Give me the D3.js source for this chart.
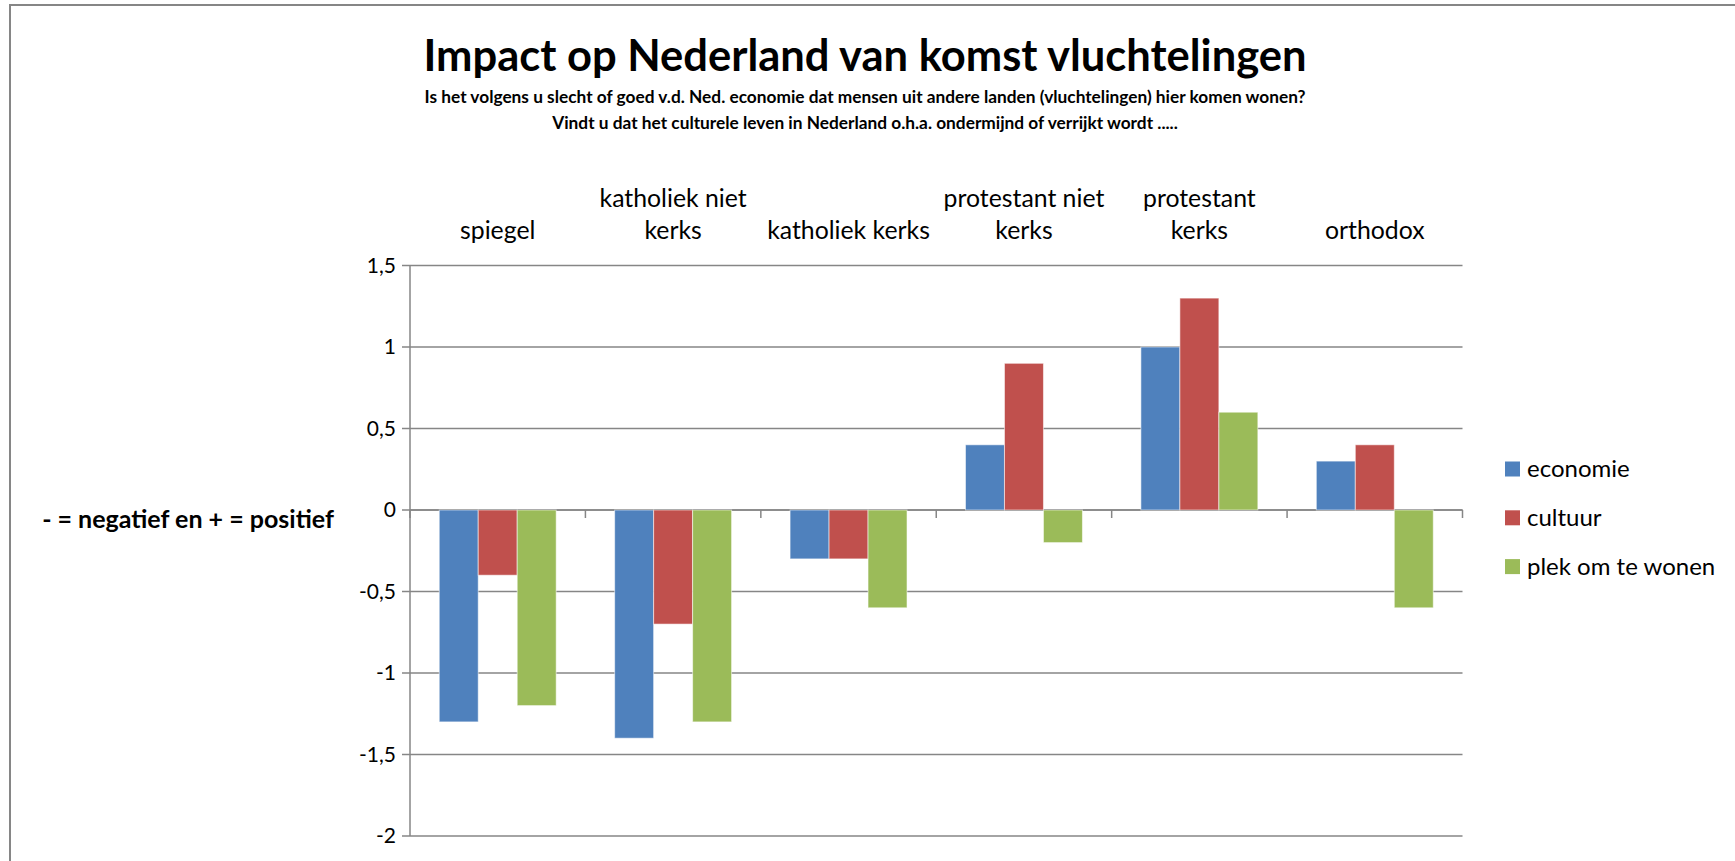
<!DOCTYPE html>
<html>
<head>
<meta charset="utf-8">
<script src="https://cdn.jsdelivr.net/npm/d3@7"></script>
<style>
  body { margin: 0; background: #fff; }
  svg text { font-family: Lato, "Open Sans", sans-serif; fill: #000; }
  .grid line { stroke: #868686; stroke-width: 1.5; }
</style>
</head>
<body>
<svg id="chart"></svg>
<script>
// chart values
var categories = [["spiegel"], ["katholiek niet", "kerks"], ["katholiek kerks"], ["protestant niet", "kerks"], ["protestant", "kerks"], ["orthodox"]];
var seriesNames = ["economie", "cultuur", "plek om te wonen"];
var economie = [-1.3, -1.4, -0.3, 0.4, 1.0, 0.3];
var cultuur = [-0.4, -0.7, -0.3, 0.9, 1.3, 0.4];
var plek = [-1.2, -1.3, -0.6, -0.2, 0.6, -0.6];
var yTicks = [-2, -1.5, -1, -0.5, 0, 0.5, 1, 1.5];
var colors = ["#4F81BD", "#C0504D", "#9BBB59"];

var width = 1735;
var height = 861;
var plot = {"left": 410, "right": 1462.5, "top": 265.5, "bottom": 836};

var svg = d3.select("svg#chart")
  .attr("width", width)
  .attr("height", height);

// outer chart border (right and bottom fall outside the picture)
svg.append("rect")
  .attr("x", 10).attr("y", 5)
  .attr("width", width + 20).attr("height", height + 20)
  .attr("fill", "none")
  .attr("stroke", "#868686")
  .attr("stroke-width", 2);

var xScale = d3.scaleBand()
  .domain(d3.range(categories.length))
  .range([plot.left, plot.right])
  .paddingInner(0)
  .paddingOuter(0);

// gap width 150% like excel: 3 bars + 1.5 bar of gap
var xInner = d3.scaleBand()
  .domain(d3.range(seriesNames.length))
  .range([0, xScale.bandwidth()])
  .paddingInner(0)
  .paddingOuter(0.75);

var yScale = d3.scaleLinear()
  .domain([-2, 1.5])
  .range([plot.bottom, plot.top]);

var nl = d3.formatLocale({"decimal": ",", "thousands": ".", "grouping": [3], "currency": ["€", ""], "minus": "-"});
var fmt = nl.format("");

// horizontal gridlines
var grid = svg.append("g").attr("class", "grid");
grid.selectAll("line.gridline")
  .data(yTicks)
  .enter()
  .append("line")
  .attr("class", "gridline")
  .attr("x1", plot.left - 8)
  .attr("x2", plot.right)
  .attr("y1", function(d) { return yScale(d); })
  .attr("y2", function(d) { return yScale(d); });

// y axis line
grid.append("line")
  .attr("x1", plot.left).attr("x2", plot.left)
  .attr("y1", plot.top).attr("y2", plot.bottom);

// y tick labels
svg.append("g")
  .selectAll("text")
  .data(yTicks)
  .enter()
  .append("text")
  .attr("x", plot.left - 14)
  .attr("y", function(d) { return yScale(d); })
  .attr("dy", "0.35em")
  .style("text-anchor", "end")
  .style("font-size", "21px")
  .text(function(d) { return fmt(d); });

// bars
var allSeries = [economie, cultuur, plek];
var groups = svg.append("g").selectAll("g.series")
  .data(allSeries)
  .enter()
  .append("g")
  .attr("class", "series")
  .attr("fill", function(d, i) { return colors[i]; });

groups.each(function(vals, si) {
  d3.select(this).selectAll("rect")
    .data(vals)
    .enter()
    .append("rect")
    .attr("x", function(d, ci) { return xScale(ci) + xInner(si); })
    .attr("width", xInner.bandwidth())
    .attr("y", function(d) { return yScale(Math.max(0, d)); })
    .attr("height", function(d) { return Math.abs(yScale(d) - yScale(0)); })
    .attr("stroke", "rgba(255,255,255,0.55)")
    .attr("stroke-width", 1);
});

// category axis on zero line with ticks going down
var zeroY = yScale(0);
grid.append("line")
  .attr("x1", plot.left).attr("x2", plot.right)
  .attr("y1", zeroY).attr("y2", zeroY);
grid.selectAll("line.ctick")
  .data(d3.range(categories.length + 1))
  .enter()
  .append("line")
  .attr("class", "ctick")
  .attr("x1", function(d) { return plot.left + d * xScale.step(); })
  .attr("x2", function(d) { return plot.left + d * xScale.step(); })
  .attr("y1", zeroY)
  .attr("y2", zeroY + 8);

// category labels above the plot
var catLabels = svg.append("g")
  .selectAll("text")
  .data(categories)
  .enter()
  .append("text")
  .attr("x", function(d, i) { return xScale(i) + xScale.bandwidth() / 2; })
  .style("text-anchor", "middle")
  .style("font-size", "24.8px");

catLabels.each(function(lines) {
  var t = d3.select(this);
  var base = 239 - (lines.length - 1) * 32.3;
  lines.forEach(function(line, k) {
    t.append("tspan")
      .attr("x", t.attr("x"))
      .attr("y", base + k * 32.3)
      .text(line);
  });
});

// legend
var legend = svg.append("g")
  .attr("class", "legend")
  .attr("transform", "translate(1505, 469)");

var legend_el = legend.selectAll("g.legend_el")
  .data(seriesNames)
  .enter()
  .append("g")
  .attr("class", "legend_el")
  .attr("transform", function(d, i) { return "translate(0," + (i * 48.8) + ")"; });

legend_el.append("rect")
  .attr("x", 0).attr("y", -7.5)
  .attr("width", 15).attr("height", 15)
  .attr("fill", function(d, i) { return colors[i]; });

legend_el.append("text")
  .attr("x", 22)
  .attr("dy", "0.35em")
  .style("font-size", "24px")
  .text(function(d) { return d; });

// y axis title
svg.append("text")
  .attr("x", 188)
  .attr("y", 519)
  .attr("dy", "0.35em")
  .style("text-anchor", "middle")
  .style("font-size", "25px")
  .style("font-weight", "bold")
  .text("- = negatief en + = positief");

// titles
svg.append("text")
  .attr("x", 865)
  .attr("y", 71)
  .style("text-anchor", "middle")
  .style("font-size", "43.5px")
  .style("font-weight", "bold")
  .text("Impact op Nederland van komst vluchtelingen");

svg.append("text")
  .attr("x", 865)
  .attr("y", 103)
  .style("text-anchor", "middle")
  .style("font-size", "17.3px")
  .style("font-weight", "bold")
  .text("Is het volgens u slecht of goed v.d. Ned. economie dat mensen uit andere landen (vluchtelingen) hier komen wonen?");

svg.append("text")
  .attr("x", 865)
  .attr("y", 129)
  .style("text-anchor", "middle")
  .style("font-size", "17.3px")
  .style("font-weight", "bold")
  .text("Vindt u dat het culturele leven in Nederland o.h.a. ondermijnd of verrijkt wordt .....");
</script>
</body>
</html>
